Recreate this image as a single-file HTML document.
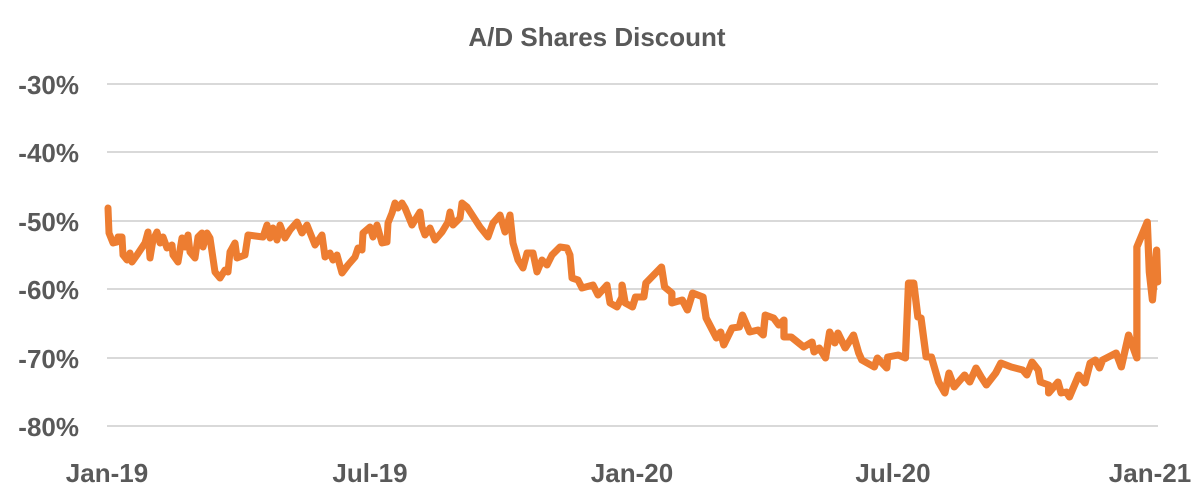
<!DOCTYPE html>
<html><head><meta charset="utf-8"><style>
body{margin:0;background:#fff;}
svg{display:block;font-family:"Liberation Sans",sans-serif;font-weight:bold;fill:#595959;}
</style></head><body>
<svg width="1195" height="499" xmlns="http://www.w3.org/2000/svg">
<rect width="1195" height="499" fill="#fff"/>
<text x="597" y="46" text-anchor="middle" font-size="26" fill="#595959">A/D Shares Discount</text>
<g stroke="#d9d9d9" stroke-width="2">
<line x1="107" x2="1158" y1="84" y2="84"/>
<line x1="107" x2="1158" y1="152" y2="152"/>
<line x1="107" x2="1158" y1="221" y2="221"/>
<line x1="107" x2="1158" y1="289" y2="289"/>
<line x1="107" x2="1158" y1="358" y2="358"/>
<line x1="107" x2="1158" y1="426" y2="426"/>
</g>
<g font-size="26" text-anchor="end" fill="#595959">
<text x="79" y="94">-30%</text>
<text x="79" y="162">-40%</text>
<text x="79" y="231">-50%</text>
<text x="79" y="299">-60%</text>
<text x="79" y="368">-70%</text>
<text x="79" y="436">-80%</text>
</g>
<g font-size="26" text-anchor="middle" fill="#595959">
<text x="107" y="482">Jan-19</text>
<text x="370" y="482">Jul-19</text>
<text x="632" y="482">Jan-20</text>
<text x="893" y="482">Jul-20</text>
<text x="1150" y="482">Jan-21</text>
</g>
<g transform="translate(0,0)">
<polyline fill="none" stroke="#ED7D31" stroke-width="7" stroke-linejoin="round" stroke-linecap="round" points="
108,208 109,233 113,243 117,242 118,237 122,237 123,255 127,260 130,253 132,262 137,255 145,243 148,232 150,258 153,240 157,232 160,243 163,237 167,248 172,245 173,255 178,262 182,238 185,247 188,235 190,252 195,258 198,237 202,233 203,247 207,233 210,238 215,272 220,278 225,270 228,272 230,252 235,243 237,258 245,255 248,235 263,237 267,225 270,238 273,228 277,240 280,225 285,238 290,230 297,222 302,233 307,225 315,245 322,235 325,257 330,253 333,260 337,255 342,273 348,265 355,257 358,248 362,250 363,233 370,227 373,237 377,225 382,243 387,242 388,223 392,213 395,203 398,208 402,203 405,208 412,225 420,212 422,227 425,235 430,228 435,240 442,232 448,222 450,212 453,225 460,218 462,203 467,207 480,227 488,237 493,223 500,215 505,232 510,215 513,243 518,260 523,268 527,253 533,253 537,272 542,260 547,265 552,255 560,247 567,248 570,255 572,278 578,280 582,288 593,285 598,295 607,285 610,303 617,307 622,297"/>
<polyline fill="none" stroke="#ED7D31" stroke-width="7" stroke-linejoin="round" stroke-linecap="round" transform="translate(-23.6,0) scale(1.038,1)" points="
622,297 622,285 625,303 632,307 635,297 643,297 645,283 660,267 663,287 670,293 670,303 680,300 685,310 690,293 700,297 703,318 713,338 717,332 720,345 728,328 735,327 738,315 745,332 753,330 758,335 760,315 768,318 773,325 778,320 778,337 785,337 797,347 805,342 807,352 812,348 818,358 822,332 827,343 830,333 837,348 845,335 850,353 853,360 865,367 868,358 877,368 878,357 888,355 895,358 898,283 903,283 907,317 910,318 915,357 920,357 927,382 933,393 937,373 942,387 952,375 957,382 963,368 968,377 973,385 982,373 987,363 997,367 1008,370 1012,375 1017,362 1023,370 1025,382 1033,385 1033,393 1042,382 1045,393 1050,392 1053,397 1062,375 1068,383 1073,363 1078,360 1082,368 1085,360 1098,353 1103,367 1110,335 1118,358 1118,247 1128,222 1130,272 1133,300 1137,250 1138,282"/>
</g>
</svg>
</body></html>
